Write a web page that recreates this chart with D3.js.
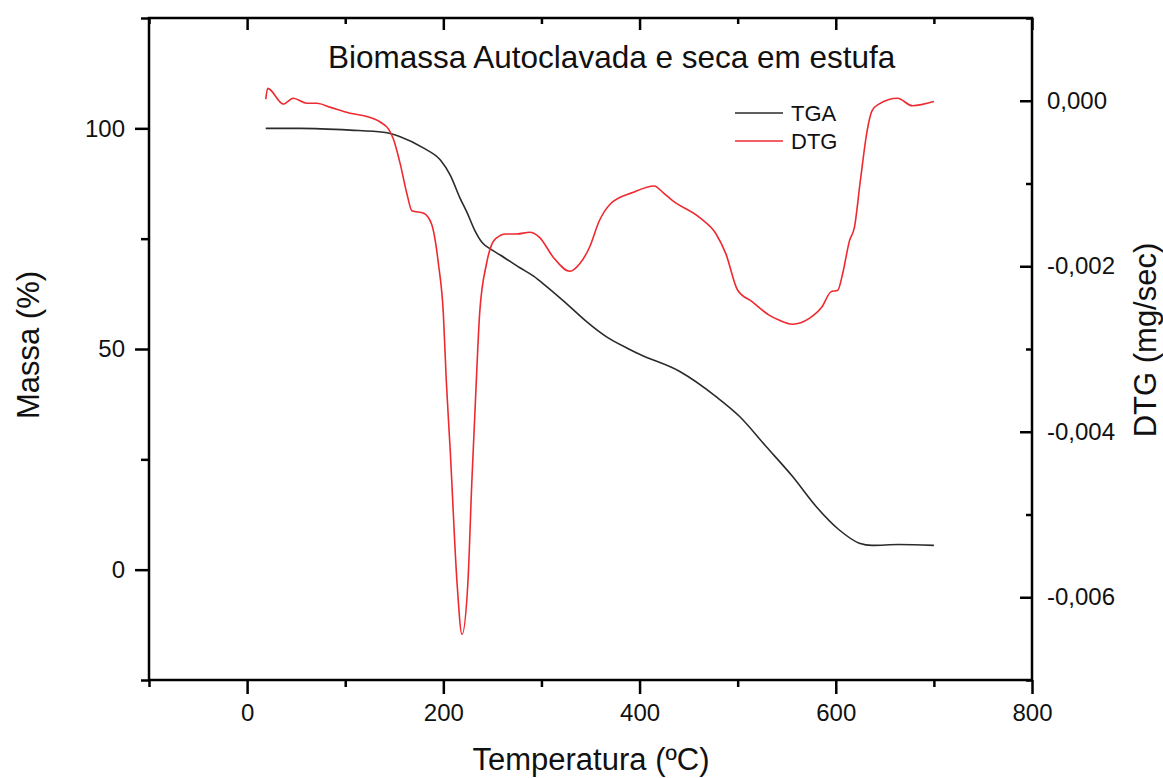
<!DOCTYPE html>
<html>
<head>
<meta charset="utf-8">
<script src="https://cdn.jsdelivr.net/npm/d3@7"></script>
<style>
  body { margin: 0; background: #fff; }
  text { font-family: "Liberation Sans", Arial, sans-serif; fill: #111; }
</style>
</head>
<body>
<div id="chart"></div>
<script>
// temperature (C) and mass (%)
var tgaTemp = [19, 54, 105, 139, 156, 180, 197, 207, 217, 224, 232, 240, 247, 258, 278, 292, 305, 325, 346, 366, 390, 400, 441, 478, 502, 529, 556, 580, 603, 624, 637, 664, 700]
var tgaMass = [100, 100, 99.6, 99.1, 98.1, 95.5, 92.8, 89.4, 84.2, 81.0, 76.9, 74.0, 72.8, 71.3, 68.4, 66.5, 64.2, 60.4, 56.2, 52.8, 49.9, 48.8, 44.9, 39.2, 34.7, 27.9, 21.1, 14.3, 9.1, 6.0, 5.5, 5.7, 5.5]

// temperature (C) and DTG (mg/sec)
var dtgTemp = [19, 21, 37, 47, 61, 71, 85, 105, 122, 136, 144, 149, 156, 163, 168, 180, 188, 195, 200, 203, 207, 214, 219, 225, 229, 235, 237, 244, 253, 264, 275, 288, 298, 312, 329, 339, 349, 359, 370, 393, 415, 424, 434, 461, 478, 488, 500, 515, 532, 542, 556, 573, 586, 595, 602, 607, 614, 619, 625, 632, 637, 644, 663, 678, 700]
var dtgVal = [0.00002, 0.00015, -0.00004, 0.00003, -0.00003, -0.00003, -0.00008, -0.00015, -0.00019, -0.00026, -0.00034, -0.00046, -0.00076, -0.00113, -0.00133, -0.00136, -0.00149, -0.00197, -0.00257, -0.00338, -0.00422, -0.00583, -0.00645, -0.00583, -0.00462, -0.00302, -0.00257, -0.00197, -0.00167, -0.00161, -0.00161, -0.00159, -0.00165, -0.00189, -0.00206, -0.00197, -0.00177, -0.00145, -0.00125, -0.00111, -0.00103, -0.00111, -0.00121, -0.00141, -0.00161, -0.00185, -0.00229, -0.00243, -0.00259, -0.00265, -0.00270, -0.00263, -0.00249, -0.00231, -0.00229, -0.00209, -0.00169, -0.00153, -0.00097, -0.00036, -0.00012, -0.00004, 0.00003, -0.00006, -0.00001]

var xMajor = [0, 200, 400, 600, 800]
var xMinor = [-100, 100, 300, 500, 700]
var yMajor = [0, 50, 100]
var yMinor = [-25, 25, 75, 125]
var dMajor = [0, -0.002, -0.004, -0.006]
var dMinor = [0.001, -0.001, -0.003, -0.005, -0.007]

var title = "Biomassa Autoclavada e seca em estufa"
var seriesNames = ["TGA", "DTG"]
var seriesColors = ["#2b2b2b", "#ee2a30"]

var w = 1163
var h = 778
var mLeft = 149, mRight = 1032, mTop = 18, mBottom = 680

var svg = d3.select("#chart").append("svg")
    .attr("width", w)
    .attr("height", h)

var x = d3.scaleLinear().domain([-100, 800]).range([mLeft, mRight])
var y = d3.scaleLinear().domain([-25, 125]).range([mBottom, mTop])
var yd = d3.scaleLinear().domain([-0.007, 0.001]).range([mBottom, mTop])

var loc = d3.formatLocale({decimal: ",", thousands: ".", grouping: [3], currency: ["", ""], minus: "-"})
var fmtD = loc.format(".3f")

var tgaData = tgaTemp.map((t, i) => [t, tgaMass[i]])
var dtgData = dtgTemp.map((t, i) => [t, dtgVal[i]])

var tgaLine = d3.line().x(d => x(d[0])).y(d => y(d[1])).curve(d3.curveMonotoneX)
var dtgLine = d3.line().x(d => x(d[0])).y(d => yd(d[1])).curve(d3.curveMonotoneX)

svg.append("path").datum(tgaData)
   .attr("d", tgaLine)
   .attr("fill", "none")
   .attr("stroke", seriesColors[0])
   .attr("stroke-width", 1.6)

svg.append("path").datum(dtgData)
   .attr("d", dtgLine)
   .attr("fill", "none")
   .attr("stroke", seriesColors[1])
   .attr("stroke-width", 1.6)

function styleAxis(g) {
  g.select(".domain").remove()
  g.selectAll(".tick line").attr("stroke", "#000").attr("stroke-width", 2.5)
  g.selectAll(".tick text").attr("font-size", 24).attr("fill", "#111")
}

// bottom
svg.append("g").attr("transform", "translate(0," + mBottom + ")")
   .call(d3.axisBottom(x).tickValues(xMajor).tickSize(14).tickPadding(10).tickFormat(d3.format("d")))
   .call(styleAxis)
svg.append("g").attr("transform", "translate(0," + mBottom + ")")
   .call(d3.axisBottom(x).tickValues(xMinor).tickSize(7).tickFormat(""))
   .call(styleAxis)
// top (inward)
svg.append("g").attr("transform", "translate(0," + mTop + ")")
   .call(d3.axisBottom(x).tickValues(xMajor).tickSize(12).tickFormat(""))
   .call(styleAxis)
svg.append("g").attr("transform", "translate(0," + mTop + ")")
   .call(d3.axisBottom(x).tickValues(xMinor).tickSize(6).tickFormat(""))
   .call(styleAxis)
// left
svg.append("g").attr("transform", "translate(" + mLeft + ",0)")
   .call(d3.axisLeft(y).tickValues(yMajor).tickSize(14).tickPadding(10).tickFormat(d3.format("d")))
   .call(styleAxis)
svg.append("g").attr("transform", "translate(" + mLeft + ",0)")
   .call(d3.axisLeft(y).tickValues(yMinor).tickSize(8).tickFormat(""))
   .call(styleAxis)
// right (ticks inward, labels outside)
var rAx = svg.append("g").attr("transform", "translate(" + mRight + ",0)")
   .call(d3.axisLeft(yd).tickValues(dMajor).tickSize(12).tickFormat(fmtD))
   .call(styleAxis)
rAx.selectAll(".tick text").attr("text-anchor", "start").attr("x", 15)
svg.append("g").attr("transform", "translate(" + mRight + ",0)")
   .call(d3.axisLeft(yd).tickValues(dMinor).tickSize(6).tickFormat(""))
   .call(styleAxis)

// frame
svg.append("rect")
   .attr("x", mLeft).attr("y", mTop)
   .attr("width", mRight - mLeft).attr("height", mBottom - mTop)
   .attr("fill", "none").attr("stroke", "#000").attr("stroke-width", 2.5)

// titles
svg.append("text").attr("x", 328).attr("y", 68)
   .attr("font-size", 31.5).text(title)

svg.append("text").attr("x", 591).attr("y", 770)
   .attr("text-anchor", "middle").attr("font-size", 31).text("Temperatura (ºC)")

svg.append("text").attr("transform", "translate(39,345) rotate(-90)")
   .attr("text-anchor", "middle").attr("font-size", 31).text("Massa (%)")

svg.append("text").attr("transform", "translate(1156,340) rotate(-90)")
   .attr("text-anchor", "middle").attr("font-size", 31).text("DTG (mg/sec)")

// legend
var leg = svg.append("g").attr("transform", "translate(735,113)")
seriesNames.forEach((name, i) => {
  leg.append("line")
     .attr("x1", 0).attr("x2", 48)
     .attr("y1", i * 28).attr("y2", i * 28)
     .attr("stroke", seriesColors[i]).attr("stroke-width", 1.6)
  leg.append("text")
     .attr("x", 56).attr("y", i * 28 + 8)
     .attr("font-size", 22).text(name)
})
</script>
</body>
</html>
